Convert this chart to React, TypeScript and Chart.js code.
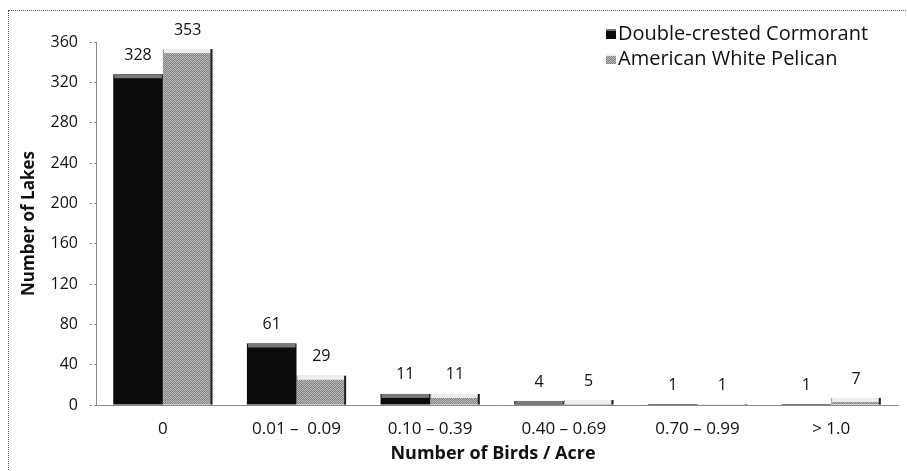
import React, { useEffect, useRef } from "react";
import { Chart, registerables } from "chart.js";

Chart.register(...registerables);

const categories = ["0", "0.01 –  0.09", "0.10 – 0.39", "0.40 – 0.69", "0.70 – 0.99", "> 1.0"];
const cormorant = [328, 61, 11, 4, 1, 1];
const pelican = [353, 29, 11, 5, 1, 7];
const seriesNames = ["Double-crested Cormorant", "American White Pelican"];
const yMin = 0;
const yMax = 360;
const yStep = 40;
const yTitle = "Number of Lakes";
const xTitle = "Number of Birds / Acre";

const FONT = "'Open Sans', 'DejaVu Sans', sans-serif";

function makePattern(ctx: CanvasRenderingContext2D): CanvasPattern | string {
  const c = document.createElement("canvas");
  c.width = 4;
  c.height = 4;
  const p = c.getContext("2d");
  if (!p) return "#a8a8a8";
  const grays = [
    [195, 140, 180, 130],
    [130, 185, 120, 170],
    [175, 125, 200, 140],
    [135, 170, 130, 190],
  ];
  for (let y = 0; y < 4; y++) {
    for (let x = 0; x < 4; x++) {
      const g = grays[y][x];
      p.fillStyle = `rgb(${g},${g},${g})`;
      p.fillRect(x, y, 1, 1);
    }
  }
  return ctx.createPattern(c, "repeat") || "#a8a8a8";
}

const decorPlugin = {
  id: "decor",
  afterDatasetsDraw(chart: any) {
    const ctx: CanvasRenderingContext2D = chart.ctx;
    ctx.save();
    chart.data.datasets.forEach((ds: any, di: number) => {
      const meta = chart.getDatasetMeta(di);
      meta.data.forEach((el: any, i: number) => {
        const left = el.x - el.width / 2;
        const top = el.y;
        const h = el.base - el.y;
        const band = Math.min(4, Math.max(1, h));
        ctx.fillStyle = di === 0 ? "#7a7a7a" : "#eeeeee";
        ctx.fillRect(left + 1, top, el.width - 2, band);
        if (di === 1) {
          ctx.fillStyle = "#222";
          ctx.fillRect(left + el.width - 2, top, 2, h);
        }
        // value label
        ctx.fillStyle = "#111";
        ctx.font = `16px ${FONT}`;
        ctx.textAlign = "center";
        ctx.textBaseline = "middle";
        ctx.fillText(String(ds.data[i]), el.x, top - 19);
      });
    });
    ctx.restore();
  },
  afterDraw(chart: any) {
    const ctx: CanvasRenderingContext2D = chart.ctx;
    const area = chart.chartArea;
    ctx.save();
    // axis titles
    ctx.fillStyle = "#111";
    ctx.textAlign = "center";
    ctx.textBaseline = "middle";
    ctx.font = `bold 18px ${FONT}`;
    ctx.fillText(xTitle, (area.left + area.right) / 2 - 4, 444);
    ctx.font = `bold 17px ${FONT}`;
    ctx.save();
    ctx.translate(21, (area.top + area.bottom) / 2);
    ctx.rotate(-Math.PI / 2);
    ctx.fillText(yTitle, 0, 0);
    ctx.restore();
    // legend
    const lx = 598;
    const rows = [24, 49];
    chart.data.datasets.forEach((ds: any, di: number) => {
      const cy = rows[di];
      ctx.fillStyle = ds.backgroundColor;
      ctx.fillRect(lx, cy - 5, 10, 10);
      ctx.fillStyle = di === 0 ? "#777" : "#eee";
      ctx.fillRect(lx, cy - 5, 10, 2);
      ctx.fillStyle = "#111";
      ctx.font = `20px ${FONT}`;
      ctx.textAlign = "left";
      ctx.textBaseline = "middle";
      ctx.fillText(ds.label, lx + 12, cy);
    });
    ctx.restore();
  },
};

export default function App() {
  const ref = useRef<HTMLCanvasElement | null>(null);
  useEffect(() => {
    const canvas = ref.current;
    if (!canvas) return;
    const ctx = canvas.getContext("2d");
    if (!ctx) return;
    const pattern = makePattern(ctx);
    const chart = new Chart(canvas, {
      type: "bar",
      data: {
        labels: categories,
        datasets: [
          {
            label: seriesNames[0],
            data: cormorant,
            backgroundColor: "#0b0b0b",
            categoryPercentage: 0.742,
            barPercentage: 1,
          },
          {
            label: seriesNames[1],
            data: pelican,
            backgroundColor: pattern as any,
            categoryPercentage: 0.742,
            barPercentage: 1,
          },
        ],
      },
      options: {
        responsive: false,
        animation: false,
        devicePixelRatio: 1,
        layout: { padding: { left: 0, top: 32, right: 9, bottom: 0 } },
        plugins: {
          legend: { display: false },
          tooltip: { enabled: false },
          title: { display: false },
        },
        scales: {
          x: {
            afterFit: (s: any) => {
              s.height = 66;
            },
            grid: { drawOnChartArea: false, drawTicks: false, color: "rgba(0,0,0,0)" },
            border: { display: true, color: "#888", dash: [2, 2], width: 1 },
            ticks: {
              padding: 14,
              color: "#111",
              font: { family: FONT, size: 17 },
              maxRotation: 0,
              autoSkip: false,
            },
          },
          y: {
            min: yMin,
            max: yMax,
            afterFit: (s: any) => {
              s.width = 88;
            },
            grid: {
              drawOnChartArea: false,
              drawTicks: true,
              tickLength: 6,
              tickColor: "#888",
              tickBorderDash: [2, 2],
            },
            border: { display: true, color: "#888", dash: [2, 2], width: 1 },
            ticks: {
              stepSize: yStep,
              padding: 12,
              color: "#111",
              font: { family: FONT, size: 16 },
            },
          },
        },
      },
      plugins: [decorPlugin],
    });
    return () => chart.destroy();
  }, []);

  return (
    <div>
      <div
        style={{
          position: "fixed",
          left: 8,
          top: 10,
          width: 930,
          height: 490,
          border: "1px dotted #555",
          boxSizing: "border-box",
          background: "#fff",
        }}
      />
      <canvas
        ref={ref}
        width={899}
        height={461}
        style={{ position: "fixed", left: 8, top: 10, width: 899, height: 461 }}
      />
    </div>
  );
}
